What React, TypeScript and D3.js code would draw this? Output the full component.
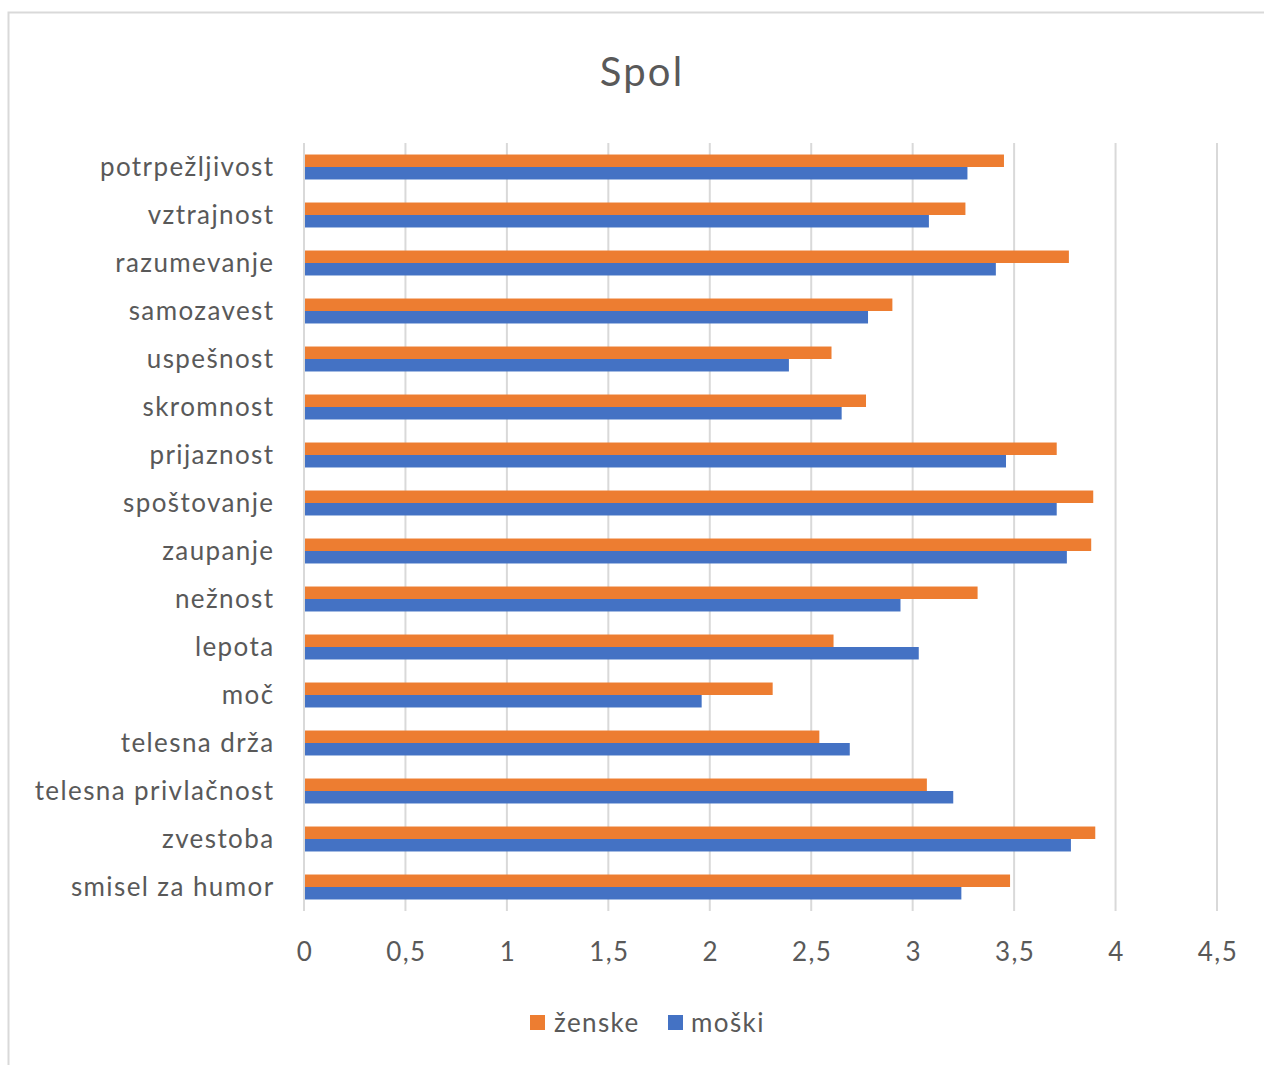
import * as d3 from "d3";

// Spol - horizontal grouped bars (ženske / moški)

const categories = [
  "potrpežljivost",
  "vztrajnost",
  "razumevanje",
  "samozavest",
  "uspešnost",
  "skromnost",
  "prijaznost",
  "spoštovanje",
  "zaupanje",
  "nežnost",
  "lepota",
  "moč",
  "telesna drža",
  "telesna privlačnost",
  "zvestoba",
  "smisel za humor",
];

const zenske = [3.45, 3.26, 3.77, 2.9, 2.6, 2.77, 3.71, 3.89, 3.88, 3.32, 2.61, 2.31, 2.54, 3.07, 3.9, 3.48];
const moski = [3.27, 3.08, 3.41, 2.78, 2.39, 2.65, 3.46, 3.71, 3.76, 2.94, 3.03, 1.96, 2.69, 3.2, 3.78, 3.24];

const seriesNames = ["ženske", "moški"];
const seriesColors = ["#ED7D31", "#4472C4"];
const ticks = [0, 0.5, 1, 1.5, 2, 2.5, 3, 3.5, 4, 4.5];

const width = 1264;
const height = 1065;
const font = "Lato, 'Open Sans', sans-serif";
const textColor = "#595959";
const fontSize = 26;
const spacing = "1.4px";

const margin = { top: 143, left: 304, right: 47, bottom: 154 };

export default function App() {
  const x = d3.scaleLinear([0, 4.5], [margin.left, width - margin.right]);
  const y = d3
    .scaleBand<string>()
    .domain(categories)
    .range([margin.top, height - margin.bottom])
    .paddingInner(0.48)
    .paddingOuter(0.24);
  const sub = d3.scaleBand<number>().domain([0, 1]).range([0, y.bandwidth()]);
  const fmt = (d: number) => String(d).replace(".", ",");
  const series = [zenske, moski];

  return (
    <div style={{ position: "absolute", left: 0, top: 0 }}>
      <svg width={width} height={height} style={{ display: "block", background: "#fff" }}>
        <rect x={8.5} y={12.5} width={width + 10} height={height + 10} fill="#fff" stroke="#d9d9d9" strokeWidth={2} />
        <text x={642} y={86} textAnchor="middle" fontFamily={font} fontSize={40} letterSpacing="2.2px" fill={textColor}>
          Spol
        </text>

        {/* gridlines */}
        {ticks.map((t) => (
          <line
            key={t}
            x1={x(t)}
            x2={x(t)}
            y1={margin.top}
            y2={height - margin.bottom}
            stroke="#d9d9d9"
            strokeWidth={2}
          />
        ))}

        {/* bars */}
        {categories.map((c, i) => (
          <g key={c} transform={`translate(0,${y(c)})`}>
            {series.map((s, j) => (
              <rect
                key={j}
                x={x(0) + 1}
                y={sub(j)}
                width={x(s[i]) - x(0) - 1}
                height={sub.bandwidth()}
                fill={seriesColors[j]}
              />
            ))}
          </g>
        ))}

        {/* category labels */}
        {categories.map((c) => (
          <text
            key={c}
            x={margin.left - 29.5}
            y={(y(c) ?? 0) + y.bandwidth() / 2}
            dy="0.35em"
            textAnchor="end"
            fontFamily={font}
            fontSize={fontSize}
            letterSpacing={spacing}
            fill={textColor}
          >
            {c}
          </text>
        ))}

        {/* x tick labels */}
        {ticks.map((t) => (
          <text
            key={t}
            x={x(t) + 1}
            y={952}
            dy="0.35em"
            textAnchor="middle"
            fontFamily={font}
            fontSize={fontSize}
            letterSpacing={spacing}
            fill={textColor}
          >
            {fmt(t)}
          </text>
        ))}

        {/* legend */}
        <g fontFamily={font} fontSize={fontSize} letterSpacing={spacing} fill={textColor}>
          <rect x={530} y={1015} width={15} height={15} fill={seriesColors[0]} />
          <text x={554} y={1023} dy="0.35em">
            {seriesNames[0]}
          </text>
          <rect x={668} y={1015} width={15} height={15} fill={seriesColors[1]} />
          <text x={691} y={1023} dy="0.35em">
            {seriesNames[1]}
          </text>
        </g>
      </svg>
    </div>
  );
}
